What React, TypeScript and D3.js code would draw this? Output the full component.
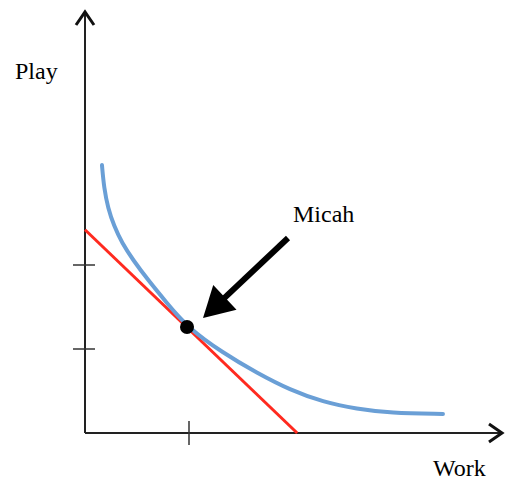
import React from "react";
import * as d3 from "d3";

// Indifference curve samples (work, play)
const curveWork = [0.163, 0.183, 0.221, 0.279, 0.356, 0.462, 0.606, 0.779, 0.981, 1.327, 1.654, 1.971, 2.288, 2.615, 2.933, 3.442];
const curvePlay = [3.19, 2.917, 2.679, 2.464, 2.262, 2.06, 1.821, 1.56, 1.262, 0.952, 0.714, 0.512, 0.369, 0.286, 0.238, 0.226];
// Budget line endpoints (work, play)
const budgetWork = [0, 2.04];
const budgetPlay = [2.42, 0];
// Chosen point
const pointWork = [0.981];
const pointPlay = [1.262];
// Tick values
const xTicks = [1];
const yTicks = [1, 2];
// Labels
const xLabel = "Work";
const yLabel = "Play";
const pointLabel = "Micah";
// Annotation arrow (from tail to tip, data coords)
const arrowWork = [1.952, 1.135];
const arrowPlay = [2.321, 1.369];

const W = 505;
const H = 480;

export default function App() {
  const x = d3.scaleLinear().domain([0, 4]).range([85, 501]);
  const y = d3.scaleLinear().domain([0, 5]).range([433, 13]);

  const curveData = curveWork.map((w, i) => [w, curvePlay[i]] as [number, number]);
  const curvePath = d3
    .line<[number, number]>()
    .x((d) => x(d[0]))
    .y((d) => y(d[1]))
    .curve(d3.curveBasis)(curveData) as string;

  const budgetData = budgetWork.map((w, i) => [w, budgetPlay[i]] as [number, number]);
  const budgetPath = d3
    .line<[number, number]>()
    .x((d) => x(d[0]))
    .y((d) => y(d[1]))(budgetData) as string;

  const ox = x(0);
  const oy = y(0);
  const topY = 12;
  const rightX = 502;

  // Annotation arrow geometry
  const tx = x(arrowWork[0]);
  const ty = y(arrowPlay[0]);
  const hx = x(arrowWork[1]);
  const hy = y(arrowPlay[1]);
  const dx = hx - tx;
  const dy = hy - ty;
  const len = Math.hypot(dx, dy);
  const ux = dx / len;
  const uy = dy / len;
  const headLen = 30;
  const headHalf = 17;
  const bx = hx - ux * headLen;
  const by = hy - uy * headLen;
  const px = -uy;
  const py = ux;
  const headPts = [
    [hx, hy],
    [bx + px * headHalf, by + py * headHalf],
    [bx - px * headHalf, by - py * headHalf],
  ]
    .map((p) => p.join(","))
    .join(" ");

  const font = "'Liberation Serif', 'Times New Roman', serif";

  return (
    <svg
      width={W}
      height={H}
      style={{ position: "absolute", left: 0, top: 0, background: "#fff" }}
    >
      {/* Axes */}
      <line x1={ox} y1={oy} x2={ox} y2={topY + 1} stroke="#222" strokeWidth={2} />
      <line x1={ox} y1={oy} x2={rightX - 1} y2={oy} stroke="#222" strokeWidth={2} />
      <polyline
        points={`${ox - 9},${topY + 13} ${ox},${topY} ${ox + 9},${topY + 13}`}
        fill="none"
        stroke="#111"
        strokeWidth={3}
        strokeLinejoin="miter"
      />
      <polyline
        points={`${rightX - 13},${oy - 9} ${rightX},${oy} ${rightX - 13},${oy + 9}`}
        fill="none"
        stroke="#111"
        strokeWidth={3}
        strokeLinejoin="miter"
      />
      {/* Ticks */}
      {yTicks.map((t) => (
        <line key={"y" + t} x1={ox - 12} x2={ox + 10} y1={y(t)} y2={y(t)} stroke="#333" strokeWidth={1.5} />
      ))}
      {xTicks.map((t) => (
        <line key={"x" + t} x1={x(t)} x2={x(t)} y1={oy - 12} y2={oy + 12} stroke="#333" strokeWidth={1.5} />
      ))}
      {/* Budget line */}
      <path d={budgetPath} fill="none" stroke="#ff2a1f" strokeWidth={3} />
      {/* Indifference curve */}
      <path d={curvePath} fill="none" stroke="#6a9fd6" strokeWidth={4} strokeLinecap="round" />
      {/* Point */}
      {pointWork.map((w, i) => (
        <circle key={i} cx={x(w)} cy={y(pointPlay[i])} r={7} fill="#000" />
      ))}
      {/* Annotation arrow */}
      <line x1={tx} y1={ty} x2={bx + ux * 2} y2={by + uy * 2} stroke="#000" strokeWidth={6} />
      <polygon points={headPts} fill="#000" />
      {/* Labels */}
      <text x={15} y={79} fontFamily={font} fontSize={24} fill="#000">
        {yLabel}
      </text>
      <text x={433} y={476} fontFamily={font} fontSize={24} fill="#000">
        {xLabel}
      </text>
      <text x={293} y={222} fontFamily={font} fontSize={24} fill="#000">
        {pointLabel}
      </text>
    </svg>
  );
}
